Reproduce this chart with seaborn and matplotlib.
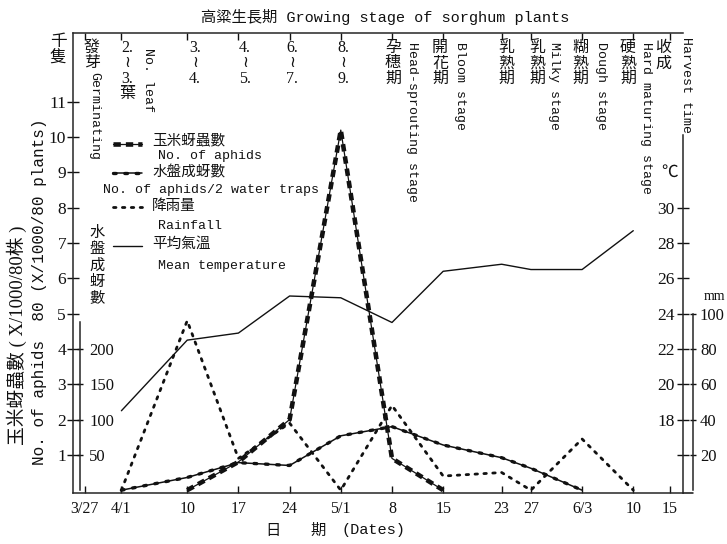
import matplotlib
matplotlib.use("Agg")
import matplotlib.pyplot as plt
from matplotlib.lines import Line2D
import pandas as pd
import seaborn as sns

# ---- data -------------------------------------------------------------
# sampling dates, counted in days from 27 March
date_days = [0, 5, 14, 21, 28, 35, 42, 49, 57, 61, 68, 75, 80]
date_labels = ["3/27", "4/1", "10", "17", "24", "5/1", "8", "15", "23", "27", "6/3", "10", "15"]

# corn aphids, thousands per 80 plants
aphid_days = [14, 21, 28, 35, 42, 49]
aphid_counts = [0, 0.8, 2.0, 10.2, 0.9, 0]

# winged aphids caught in 2 water-pan traps
trap_days = [5, 14, 21, 28, 35, 42, 49, 57, 61, 68]
trap_counts = [0, 18, 39, 35, 77, 90, 64, 46, 31, 0]

# rainfall (mm) and mean temperature (deg C)
weather_days = [5, 14, 21, 28, 35, 42, 49, 57, 61, 68, 75]
rain_mm = [0, 96, 18, 38, 0, 48, 8, 10, 0, 29, 0]
temp_c = [18.5, 22.5, 22.9, 25.0, 24.9, 23.5, 26.4, 26.8, 26.5, 26.5, 28.7]

aphid_ticks = list(range(1, 12))
trap_ticks = [50, 100, 150, 200]
temp_ticks = [16, 18, 20, 22, 24, 26, 28, 30]
temp_labels = ["", "18", "20", "22", "24", "26", "28", "30"]
rain_ticks = [20, 40, 60, 80, 100]

aphids = pd.DataFrame({"day": aphid_days, "count": aphid_counts})
traps = pd.DataFrame({"day": trap_days, "count": trap_counts})
weather = pd.DataFrame({"day": weather_days, "rain": rain_mm, "temp": temp_c})

# ---- style ------------------------------------------------------------
sns.set_style("ticks")
SERIF = ["Liberation Serif", "Noto Sans CJK TC", "DejaVu Sans"]
MONO = ["Liberation Mono", "Noto Sans CJK TC", "DejaVu Sans"]
CJK = ["Noto Sans CJK TC", "DejaVu Sans"]
plt.rcParams["font.family"] = SERIF
plt.rcParams["axes.linewidth"] = 1.1
plt.rcParams["xtick.major.width"] = 1.0
plt.rcParams["ytick.major.width"] = 1.0
INK = "#111111"

W, H = 727, 544
fig = plt.figure(figsize=(W / 100, H / 100), dpi=100)
fig.patch.set_facecolor("white")


def fx(px):
    return px / W


def fy(py):
    return 1 - py / H


def ftext(x, y, s, **kw):
    kw.setdefault("color", INK)
    return fig.text(fx(x), fy(y), s, **kw)


# one common vertical unit: 1 aphid unit = 50 traps = 2 deg C = 20 mm
U0, U1 = -0.08, 12.95
ax = fig.add_axes([fx(73), fy(493), fx(683) - fx(73), fy(33) - fy(493)])
ax.set_xlim(-1.62, 81.8)
ax.set_ylim(U0, U1)
ax.patch.set_alpha(0)

# water-trap axis (inner left scale)
ax_w = ax.twinx()
ax_w.set_ylim(50 * U0, 50 * U1)
# temperature axis (right)
ax_t = ax.twinx()
ax_t.set_ylim(14 + 2 * U0, 14 + 2 * U1)
# rainfall axis (outer right)
ax_r = ax.twinx()
ax_r.set_ylim(20 * U0, 20 * U1)

for a in (ax_w, ax_t, ax_r):
    for s in a.spines.values():
        s.set_visible(False)

# ---- series -----------------------------------------------------------
sns.lineplot(data=weather, x="day", y="temp", ax=ax_t, color=INK, lw=1.0)
sns.lineplot(data=weather, x="day", y="rain", ax=ax_r, color=INK, lw=2.0,
             linestyle=(0, (0.9, 2.3)), dash_capstyle="round")
sns.lineplot(data=traps, x="day", y="count", ax=ax_w, color=INK, lw=1.1)
sns.lineplot(data=traps, x="day", y="count", ax=ax_w, color=INK, lw=2.4,
             linestyle=(0, (0.8, 2.6)), dash_capstyle="round")
sns.lineplot(data=aphids, x="day", y="count", ax=ax, color=INK, lw=0.9)
sns.lineplot(data=aphids, x="day", y="count", ax=ax, color=INK, lw=3.3,
             linestyle=(0, (1.6, 1.1)))
for a in (ax, ax_w, ax_t, ax_r):
    a.set_xlabel("")
    a.set_ylabel("")

# ---- main frame -------------------------------------------------------
ax.spines["right"].set_visible(False)
ax.set_xticks(date_days)
ax.set_xticklabels(date_labels, fontsize=11.5, family=SERIF)
ax.tick_params(axis="x", direction="in", length=5, top=True, pad=6, colors=INK)
ax.set_yticks(aphid_ticks)
ax.set_yticklabels([str(v) for v in aphid_ticks], fontsize=12.5, family=SERIF)
ax.tick_params(axis="y", direction="inout", length=8, pad=1, colors=INK)

# water-trap scale, spine just inside the left frame
ax_w.spines["right"].set_visible(True)
ax_w.spines["right"].set_position(("axes", 7 / 610))
ax_w.spines["right"].set_bounds(0, 238)
ax_w.set_yticks(trap_ticks)
ax_w.set_yticklabels([str(v) for v in trap_ticks], fontsize=12, family=SERIF)
ax_w.tick_params(axis="y", direction="inout", length=5, pad=4, colors=INK)

# temperature scale on the right frame, labels inside
ax_t.spines["left"].set_visible(True)
ax_t.spines["left"].set_position(("axes", 1.0))
ax_t.spines["left"].set_bounds(14 + 2 * U0, 34.1)
ax_t.yaxis.set_ticks_position("left")
ax_t.set_yticks(temp_ticks)
ax_t.set_yticklabels(temp_labels, fontsize=12.5, family=SERIF)
ax_t.tick_params(axis="y", direction="inout", length=8, pad=2, colors=INK)

# rainfall scale, outer right
ax_r.spines["right"].set_visible(True)
ax_r.spines["right"].set_position(("axes", 1 + 10 / 610))
ax_r.spines["right"].set_bounds(0, 100)
ax_r.set_yticks(rain_ticks)
ax_r.set_yticklabels([str(v) for v in rain_ticks], fontsize=12, family=SERIF)
ax_r.tick_params(axis="y", direction="inout", length=4, pad=3, colors=INK)
ax.add_line(Line2D([1.0, 1 + 10 / 610], [0.0, 0.0], transform=ax.transAxes,
                   color=INK, lw=1.1, clip_on=False))

# ---- titles and axis captions -----------------------------------------
ftext(385, 17, "高粱生長期 Growing stage of sorghum plants", family=MONO,
      fontsize=11, ha="center", va="center")
ftext(58, 50, "千\n隻", family=CJK, fontsize=12, ha="center", va="center",
      linespacing=1.0)
ftext(17, 335, "玉米蚜蟲數 ( X/1000/80株 )", family=SERIF, fontsize=13.5,
      rotation=90, ha="center", va="center")
ftext(40, 292, "No. of aphids  80 (X/1000/80 plants)", family=MONO, fontsize=11.5,
      rotation=90, ha="center", va="center")
ftext(97, 265, "水\n盤\n成\n蚜\n數", family=CJK, fontsize=11, ha="center",
      va="center", linespacing=0.95)
ftext(670, 172, "℃", family=CJK, fontsize=12, ha="center", va="center")
ftext(714, 296, "mm", family=SERIF, fontsize=10, ha="center", va="center")
ftext(273, 530, "日", family=CJK, fontsize=11, ha="center", va="center")
ftext(318, 530, "期", family=CJK, fontsize=11, ha="center", va="center")
ftext(373, 530, "(Dates)", family=MONO, fontsize=11, ha="center", va="center")

# ---- growth-stage notes along the top ---------------------------------
stage_cjk = [(92, "發\n芽"), (127, "2.\n≀\n3.\n葉"), (195, "3.\n≀\n4."),
             (245, "4.\n≀\n5."), (292, "6.\n≀\n7."), (343, "8.\n≀\n9."),
             (393, "孕\n穗\n期"), (440, "開\n花\n期"), (506, "乳\n熟\n期"),
             (537, "乳\n熟\n期"), (580, "糊\n熟\n期"), (628, "硬\n熟\n期"),
             (663, "收\n成")]
for x, s in stage_cjk:
    ftext(x, 40, s, family=SERIF, fontsize=11.5, ha="center", va="top",
          linespacing=0.95)
stage_eng = [(94, 72, "Germinating"), (148, 48, "No. leaf"),
             (412, 42, "Head-sprouting stage"), (460, 42, "Bloom stage"),
             (554, 42, "Milky stage"), (601, 42, "Dough stage"),
             (646, 42, "Hard maturing stage"), (686, 37, "Harvest time")]
for x, y, s in stage_eng:
    ftext(x, y, s, family=MONO, fontsize=9.5, rotation=-90, ha="center", va="top")

# ---- legend -----------------------------------------------------------
def key(y, **kw):
    fig.add_artist(Line2D([fx(113), fx(142)], [fy(y), fy(y)],
                          transform=fig.transFigure, color=INK, **kw))


key(144, lw=0.9)
key(144, lw=3.3, linestyle=(0, (1.6, 1.1)))
key(173, lw=1.1)
key(173, lw=2.4, linestyle=(0, (0.8, 2.6)), dash_capstyle="round")
key(207, lw=2.0, linestyle=(0, (0.9, 2.3)), dash_capstyle="round")
key(246, lw=1.0)
for y, s in [(140, "玉米蚜蟲數"), (172, "水盤成蚜數"), (206, "降雨量"), (244, "平均氣溫")]:
    ftext(152, y, s, family=CJK, fontsize=10.5, ha="left", va="center")
for x, y, s in [(158, 156, "No. of aphids"), (103, 190, "No. of aphids/2 water traps"),
                (158, 226, "Rainfall"), (158, 266, "Mean temperature")]:
    ftext(x, y, s, family=MONO, fontsize=9.5, ha="left", va="center")

fig.savefig("out.png", dpi=100, facecolor="white")
